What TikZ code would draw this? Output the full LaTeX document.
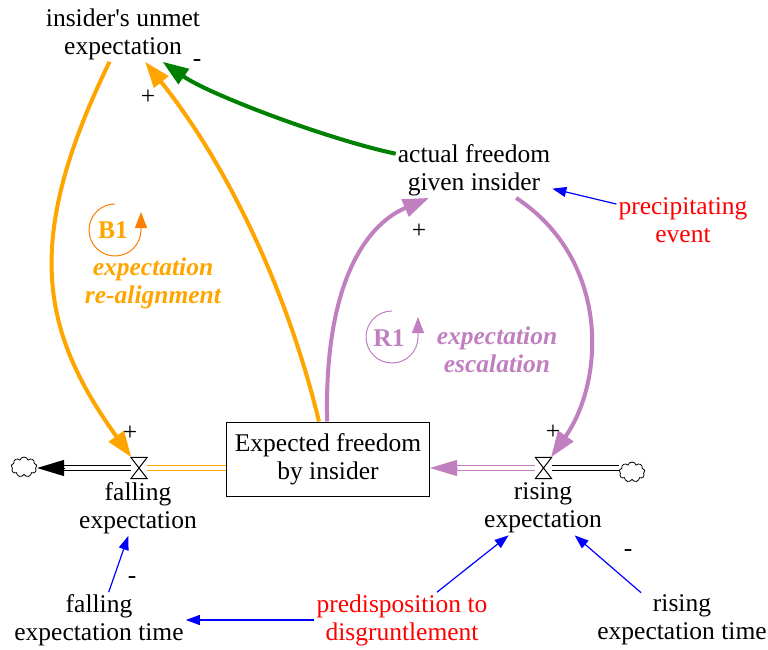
\documentclass[tikz,border=0pt]{standalone}
\usepackage{fontspec}
\setmainfont{Liberation Serif}[Ligatures=TeXOff]
\usetikzlibrary{arrows.meta}
\usetikzlibrary{shapes.symbols}

\definecolor{vorange}{RGB}{255,165,0}
\definecolor{vdarkorange}{RGB}{255,128,0}
\definecolor{vlilac}{RGB}{192,128,192}
\definecolor{vgreen}{RGB}{0,128,0}

\begin{document}
\begin{tikzpicture}[x=1pt,y=-1pt,font=\fontsize{25.5}{28}\selectfont]
			\tikzset{var/.style = {align=center, inner sep=2pt}}
			\tikzset{stock/.style = {draw, line width=1pt, minimum width=203pt, minimum height=74pt, align=center}}
			\tikzset{valve/.style = {minimum width=16pt, minimum height=21pt, inner sep=0pt}}
			\tikzset{sink/.style = {cloud, draw, line width=0.8pt, cloud puffs=9, cloud ignores aspect, minimum width=26pt, minimum height=20pt, inner sep=0pt}}
			\tikzset{link/.style = {line width=4pt, -{Triangle[length=26pt,width=18pt]}}}
			\tikzset{info/.style = {blue, line width=1.2pt, -{Triangle[length=14pt,width=10pt]}}}
			\tikzset{pipe/.style = {double, double distance=3.5pt, line width=1pt}}
			\tikzset{flowtip/.style = {line width=1pt, -{Triangle[length=27pt,width=16pt]}}}
			\tikzset{loopname/.style = {font=\fontsize{25.5}{28}\selectfont\bfseries\itshape, align=center}}
			\useasboundingbox (0,0) rectangle (768,650);
			% variables
			\node[var] (unmet) at (123,34) {insider's unmet\\expectation};
			\node[var] (actual) at (474,170) {actual freedom\\given insider};
			\node[var, red] (precip) at (683,220) {precipitating\\event};
			\node[stock] (box) at (328,459) {Expected freedom\\by insider};
			\node[valve] (vl) at (139,468) {};
			\node[valve] (vr) at (543.5,468) {};
			\node[sink] (sinkl) at (24,467) {};
			\node[sink] (sinkr) at (632,472) {};
			\node[var] (fall) at (138,508) {falling\\expectation};
			\node[var] (rise) at (543,508) {rising\\expectation};
			\node[var] (ftime) at (99,620) {falling\\expectation time};
			\node[var, red] (predisp) at (402,620) {predisposition to\\disgruntlement};
			\node[var] (rtime) at (682,620) {rising\\expectation time};
			\coordinate (ltip) at (vl -| sinkl.east);
			\coordinate (rtip) at (vr -| box.east);
			% flows
			\draw[pipe, vorange] (vl) -- (vl -| box.west);
			\draw[pipe, shorten >=26pt] (vl) -- (ltip);
			\draw[flowtip] ([xshift=27pt]ltip) -- (ltip);
			\draw[pipe] (vr) -- (vr -| sinkr.west);
			\draw[pipe, vlilac, shorten >=25pt] (vr) -- (rtip);
			\draw[flowtip, vlilac] ([xshift=27pt]rtip) -- (rtip);
			\foreach \v in {vl, vr}
				\draw[line width=1pt, fill=white] (\v.north west) -- (\v.north east) -- (\v.south west) -- (\v.south east) -- cycle;
			% links
			\draw[link, vorange] (unmet) .. controls (23,240) and (40,330) .. (vl);
			\draw[link, vorange] (box) .. controls (288,293) and (229,167) .. (unmet);
			\draw[link, vgreen] (actual) .. controls (330,140) and (210,95) .. (unmet);
			\draw[link, vlilac] (box) .. controls (324,285) and (365,225) .. ([xshift=-45pt]actual.south);
			\draw[link, vlilac] (actual) .. controls (610,260) and (605,380) .. (vr);
			\draw[info] (precip) -- (actual);
			\draw[info] (ftime) -- (fall);
			\draw[info] (predisp) -- (rise);
			\draw[info] ([xshift=-41pt]rtime.north) -- (rise);
			\draw[info] (predisp) -- (ftime);
			% polarities
			\node (p1) at (130,433) {+};
			\node (p2) at (148,97) {+};
			\node (p3) at (197,63) {-};
			\node (p4) at (419,231) {+};
			\node (p5) at (553,432) {+};
			\node (p6) at (132,580) {-};
			\node (p7) at (628,553) {-};
			% loops
			\draw[vdarkorange, line width=1pt, -{Triangle[length=16pt,width=12pt]}] (115,204) arc[start angle=270, end angle=0, radius=26] -- ++(0,-18);
			\node[vorange, font=\fontsize{25.5}{28}\selectfont\bfseries] (b1) at (113,230) {B1};
			\node[loopname, vorange] (b1name) at (153,283) {expectation\\re-alignment};
			\draw[vlilac, line width=1pt, -{Triangle[length=16pt,width=12pt]}] (392,311) arc[start angle=270, end angle=0, radius=26] -- ++(0,-20);
			\node[vlilac, font=\fontsize{25.5}{28}\selectfont\bfseries] (r1) at (389,338) {R1};
			\node[loopname, vlilac] (r1name) at (497,350) {expectation\\escalation};
		\end{tikzpicture}
\end{document}
